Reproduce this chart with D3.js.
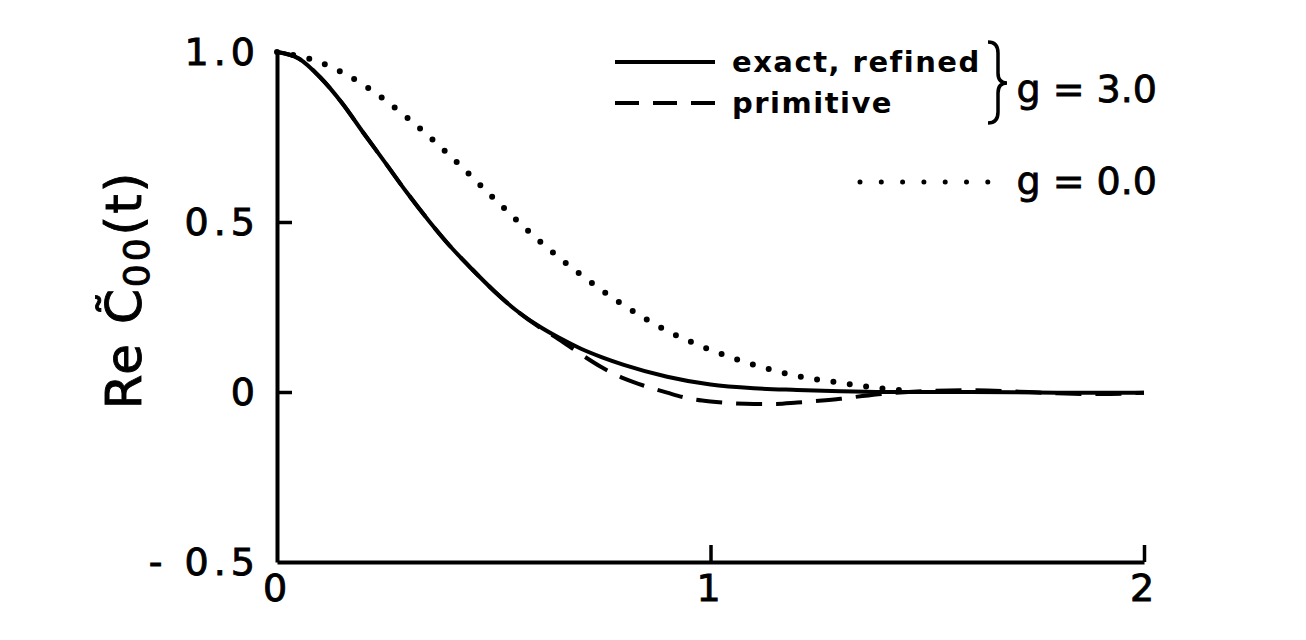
<!DOCTYPE html>
<html>
<head>
<meta charset="utf-8">
<script src="https://cdn.jsdelivr.net/npm/d3@7"></script>
<style>
  html, body { margin: 0; padding: 0; background: #fff; }
  svg { display: block; font-family: "DejaVu Sans", sans-serif; }
</style>
</head>
<body>
<svg id="chart" width="1306" height="640"></svg>
<script>
// --- data ---
const tExact = [0, 0.05, 0.1, 0.15, 0.2, 0.25, 0.3, 0.35, 0.4, 0.45, 0.5, 0.55, 0.6, 0.65, 0.7, 0.75, 0.8, 0.9, 1.0, 1.1, 1.2, 1.3, 1.4, 1.6, 1.8, 2.0];
const exactRefined = [1.0, 0.981, 0.925, 0.850, 0.761, 0.674, 0.586, 0.504, 0.428, 0.361, 0.298, 0.242, 0.197, 0.160, 0.128, 0.102, 0.080, 0.045, 0.022, 0.011, 0.006, 0.002, 0.0, 0.0, -0.002, -0.002];

const tPrimitive = [0, 0.05, 0.1, 0.15, 0.2, 0.25, 0.3, 0.35, 0.4, 0.45, 0.5, 0.55, 0.6, 0.65, 0.7, 0.75, 0.8, 0.85, 0.9, 0.95, 1.0, 1.05, 1.1, 1.15, 1.2, 1.25, 1.3, 1.35, 1.4, 1.5, 1.6, 1.7, 1.8, 1.9, 2.0];
const primitive = [1.0, 0.981, 0.925, 0.850, 0.761, 0.674, 0.586, 0.504, 0.428, 0.361, 0.298, 0.242, 0.195, 0.155, 0.112, 0.072, 0.040, 0.017, -0.002, -0.019, -0.028, -0.033, -0.035, -0.035, -0.031, -0.026, -0.020, -0.012, -0.005, 0.003, 0.005, 0.002, -0.004, -0.006, -0.002];

const tFree = [0, 0.1, 0.2, 0.3, 0.4, 0.5, 0.6, 0.7, 0.8, 0.9, 1.0, 1.1, 1.2, 1.3, 1.4, 1.45];
const free = [1.0, 0.969, 0.903, 0.807, 0.694, 0.570, 0.450, 0.346, 0.255, 0.180, 0.124, 0.080, 0.047, 0.027, 0.010, 0.004];

const xTicks = [0, 1, 2];
const xTickLabels = ["0", "1", "2"];
const yTicks = [-0.5, 0, 0.5, 1.0];
const yTickLabels = ["- 0.5", "0", "0.5", "1.0"];

const legendLabels = ["exact, refined", "primitive"];
const groupLabels = ["g = 3.0", "g = 0.0"];

// --- layout ---
const svg = d3.select("#chart");
const x = d3.scaleLinear().domain([0, 2]).range([277, 1144]);
const y = d3.scaleLinear().domain([-0.5, 1]).range([562, 52]);

// axes
const yAxis = d3.axisLeft(y)
  .tickValues(yTicks)
  .tickFormat((d, i) => yTickLabels[i])
  .tickSizeInner(-15)
  .tickSizeOuter(0)
  .tickPadding(17);

const xAxis = d3.axisBottom(x)
  .tickValues(xTicks)
  .tickFormat((d, i) => xTickLabels[i])
  .tickSizeInner(-17)
  .tickSizeOuter(0)
  .tickPadding(12);

const gy = svg.append("g").attr("transform", `translate(${x(0)},0)`).call(yAxis);
const gx = svg.append("g").attr("transform", `translate(0,${y(-0.5)})`).call(xAxis);

[gx, gy].forEach(g => {
  g.select(".domain").attr("stroke", "#000").attr("stroke-width", 4);
  g.selectAll(".tick line").attr("stroke", "#000").attr("stroke-width", 3.5);
  g.selectAll(".tick text")
    .attr("fill", "#000")
    .attr("stroke", "#000").attr("stroke-width", 0.9)
    .style("font-family", "DejaVu Sans, sans-serif")
    .style("font-size", "38px")
    .style("letter-spacing", "5px");
});
gy.selectAll(".tick").filter(d => d === 1 || d === -0.5).select("line").remove();
gx.selectAll(".tick").filter(d => d === 0).select("line").remove();

// curves
const line = d3.line().curve(d3.curveMonotoneX);
const pts = (ts, vs) => ts.map((t, i) => [x(t), y(vs[i])]);

svg.append("path")
  .attr("d", line(pts(tFree, free)))
  .attr("fill", "none").attr("stroke", "#000")
  .attr("stroke-width", 6).attr("stroke-linecap", "round")
  .attr("stroke-dasharray", "0 16.5");

svg.append("path")
  .attr("d", line(pts(tExact, exactRefined)))
  .attr("fill", "none").attr("stroke", "#000").attr("stroke-width", 4);

svg.append("path")
  .attr("d", line(pts(tPrimitive, primitive)))
  .attr("fill", "none").attr("stroke", "#000").attr("stroke-width", 4)
  .attr("stroke-dasharray", "26 14");

// legend
const leg = svg.append("g");
leg.append("line").attr("x1", 615).attr("x2", 715).attr("y1", 62).attr("y2", 62)
  .attr("stroke", "#000").attr("stroke-width", 4);
leg.append("line").attr("x1", 615).attr("x2", 715).attr("y1", 103).attr("y2", 103)
  .attr("stroke", "#000").attr("stroke-width", 4).attr("stroke-dasharray", "24 14");
leg.append("line").attr("x1", 860).attr("x2", 988).attr("y1", 182).attr("y2", 182)
  .attr("stroke", "#000").attr("stroke-width", 5).attr("stroke-linecap", "round")
  .attr("stroke-dasharray", "0 21.3");

leg.selectAll("text.lab")
  .data(legendLabels)
  .enter().append("text")
  .attr("class", "lab")
  .attr("x", 732)
  .attr("y", (d, i) => [72, 113][i])
  .style("font-size", "29px")
  .style("font-weight", "bold")
  .style("letter-spacing", "1.5px")
  .text(d => d);

// brace
leg.append("path")
  .attr("d", "M988,42 Q998,42 998,53 L998,73 Q998,83 1007,83 Q998,83 998,93 L998,112 Q998,123 988,123")
  .attr("fill", "none").attr("stroke", "#000").attr("stroke-width", 3.5);

leg.selectAll("text.grp")
  .data(groupLabels)
  .enter().append("text")
  .attr("class", "grp")
  .attr("x", 1157)
  .attr("y", (d, i) => [102, 194][i])
  .attr("text-anchor", "end")
  .attr("stroke", "#000").attr("stroke-width", 0.8)
  .style("font-size", "38px")
  .text(d => d);

// y label
const yl = svg.append("text")
  .attr("transform", "translate(141,290) rotate(-90)")
  .attr("text-anchor", "middle")
  .attr("stroke", "#000").attr("stroke-width", 0.9)
  .style("font-size", "50px")
  .style("letter-spacing", "2px");
yl.append("tspan").text("Re  ");
yl.append("tspan").text("C\u0303");
yl.append("tspan").attr("dy", 8).style("font-size", "36px").style("letter-spacing", "3px").text("00");
yl.append("tspan").attr("dy", -8).text("(t)");
</script>
</body>
</html>
